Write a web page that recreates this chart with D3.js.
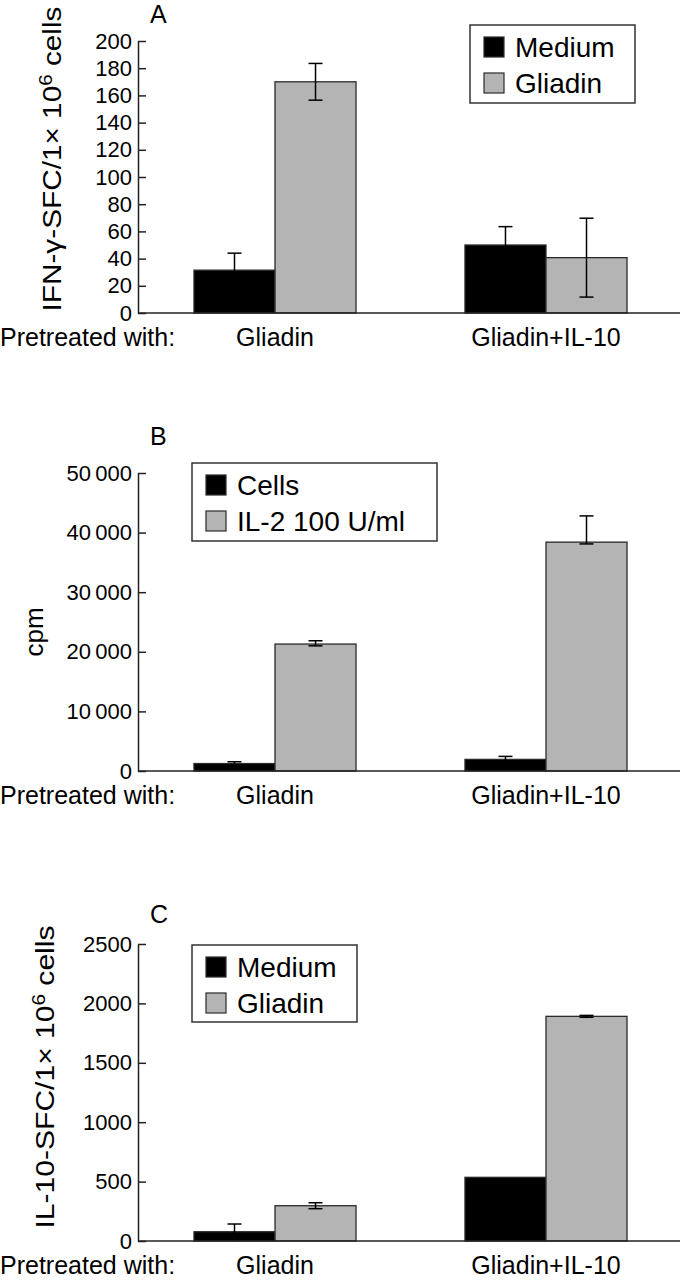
<!DOCTYPE html>
<html>
<head>
<meta charset="utf-8">
<script src="https://cdn.jsdelivr.net/npm/d3@7"></script>
<style>
  html, body { margin: 0; padding: 0; background: #fff; }
  svg { display: block; }
  text { font-family: "Liberation Sans", Arial, sans-serif; fill: #000; }
</style>
</head>
<body>
<svg id="chart" width="680" height="1280"></svg>
<script>
// ---------- DATA ----------
const categories = ["Gliadin", "Gliadin+IL-10"];
const rowLabel = "Pretreated with:";

// Panel A
const seriesA = ["Medium", "Gliadin"];
const aMedium = [31.5, 50];
const aMediumErrUp = [12.5, 13.5];
const aMediumErrDown = [12.5, 13.5];
const aGliadin = [170, 40.7];
const aGliadinErrUp = [13.5, 29];
const aGliadinErrDown = [13.5, 29];
const aTicks = [0, 20, 40, 60, 80, 100, 120, 140, 160, 180, 200];
const aTickLabels = ["0", "20", "40", "60", "80", "100", "120", "140", "160", "180", "200"];

// Panel B
const seriesB = ["Cells", "IL-2 100 U/ml"];
const bCells = [1250, 1950];
const bCellsErrUp = [300, 500];
const bCellsErrDown = [300, 500];
const bIL2 = [21300, 38400];
const bIL2ErrUp = [550, 4400];
const bIL2ErrDown = [300, 300];
const bTicks = [0, 10000, 20000, 30000, 40000, 50000];
const bTickLabels = ["0", "10\u2009000", "20\u2009000", "30\u2009000", "40\u2009000", "50\u2009000"];

// Panel C
const seriesC = ["Medium", "Gliadin"];
const cMedium = [78, 536];
const cMediumErrUp = [65, 0];
const cMediumErrDown = [65, 0];
const cGliadin = [297, 1891];
const cGliadinErrUp = [25, 8];
const cGliadinErrDown = [25, 8];
const cTicks = [0, 500, 1000, 1500, 2000, 2500];
const cTickLabels = ["0", "500", "1000", "1500", "2000", "2500"];

// ---------- DRAW ----------
const svg = d3.select("#chart");
const colors = ["#000000", "#b4b4b4"];
const axisX = 138;

const x0 = d3.scaleBand().domain(categories).range([138, 683])
  .paddingInner(0.402).paddingOuter(0.2066).align(0.5);

function drawPanel(cfg) {
  const g = svg.append("g");
  const y = d3.scaleLinear().domain(cfg.domain).range(cfg.range);
  const x1 = d3.scaleBand().domain([0, 1]).range([0, x0.bandwidth()]).padding(0);

  const rows = [];
  cfg.series.forEach((s, si) => {
    categories.forEach((c, ci) => {
      rows.push({ c, si, v: cfg.values[si][ci], up: cfg.errUp[si][ci], down: cfg.errDown[si][ci] });
    });
  });

  // bars
  g.selectAll("rect.bar").data(rows).join("rect")
    .attr("class", "bar")
    .attr("x", d => x0(d.c) + x1(d.si))
    .attr("width", x1.bandwidth())
    .attr("y", d => y(d.v))
    .attr("height", d => y(0) - y(d.v))
    .attr("fill", d => colors[d.si])
    .attr("stroke", "#2a2a2a")
    .attr("stroke-width", 1.3);

  // error bars
  const cap = 7;
  const cx = d => x0(d.c) + x1(d.si) + x1.bandwidth() / 2;
  const eb = g.selectAll("g.err").data(rows.filter(d => d.up > 0 || d.down > 0)).join("g").attr("class", "err");
  eb.append("line")
    .attr("x1", cx).attr("x2", cx)
    .attr("y1", d => y(d.v + d.up))
    .attr("y2", d => y(d.v - d.down))
    .attr("stroke", "#000").attr("stroke-width", 1.5);
  eb.append("line")
    .attr("x1", d => cx(d) - cap).attr("x2", d => cx(d) + cap)
    .attr("y1", d => y(d.v + d.up)).attr("y2", d => y(d.v + d.up))
    .attr("stroke", "#000").attr("stroke-width", 1.5);
  eb.append("line")
    .attr("x1", d => cx(d) - cap).attr("x2", d => cx(d) + cap)
    .attr("y1", d => y(d.v - d.down)).attr("y2", d => y(d.v - d.down))
    .attr("stroke", "#000").attr("stroke-width", 1.5);

  // y axis
  const axis = d3.axisLeft(y).tickValues(cfg.ticks)
    .tickFormat((d, i) => cfg.tickLabels[i])
    .tickSize(-8).tickSizeOuter(0).tickPadding(6);
  const ag = g.append("g").attr("transform", `translate(${axisX},0)`).call(axis);
  ag.select(".domain").attr("stroke", "#222").attr("stroke-width", 1.5);
  ag.selectAll(".tick line").attr("stroke", "#222").attr("stroke-width", 1.5);
  ag.selectAll(".tick text").attr("font-size", 22).attr("font-family", "Liberation Sans, Arial, sans-serif").attr("fill", "#000");

  // baseline
  g.append("line").attr("x1", axisX).attr("x2", 680)
    .attr("y1", y(0)).attr("y2", y(0))
    .attr("stroke", "#222").attr("stroke-width", 1.5);

  // category labels
  const by = y(0) + 33;
  g.append("text").attr("x", 0).attr("y", by).attr("font-size", 25).text(rowLabel);
  g.selectAll("text.cat").data(categories).join("text").attr("class", "cat")
    .attr("x", d => x0(d) + x0.bandwidth() / 2).attr("y", by)
    .attr("text-anchor", "middle").attr("font-size", 25).text(d => d);

  // panel letter
  g.append("text").attr("x", cfg.letterX).attr("y", cfg.letterY).attr("font-size", 25).text(cfg.letter);

  // y label
  const yl = g.append("text")
    .attr("transform", `translate(${cfg.ylabX},${cfg.ylabY}) rotate(-90)`)
    .attr("text-anchor", "middle").attr("font-size", 26);
  if (cfg.ylabLen) yl.attr("textLength", cfg.ylabLen).attr("lengthAdjust", "spacingAndGlyphs");
  cfg.ylabParts.forEach(p => {
    const t = yl.append("tspan").text(p.t);
    if (p.sup) t.attr("dy", -9).attr("font-size", 18);
    if (p.after) t.attr("dy", 9);
  });

  // legend
  const L = cfg.legend;
  g.append("rect").attr("x", L.x).attr("y", L.y).attr("width", L.w).attr("height", L.h)
    .attr("fill", "#fff").attr("stroke", "#333").attr("stroke-width", 1.5);
  cfg.series.forEach((s, i) => {
    const sy = L.y + 12 + i * 36;
    g.append("rect").attr("x", L.x + 14).attr("y", sy).attr("width", 20).attr("height", 20)
      .attr("fill", colors[i]).attr("stroke", "#2a2a2a").attr("stroke-width", 1.2);
    g.append("text").attr("x", L.x + 45).attr("y", sy + 20).attr("font-size", 28).text(s);
  });
}

drawPanel({
  series: seriesA, values: [aMedium, aGliadin],
  errUp: [aMediumErrUp, aGliadinErrUp], errDown: [aMediumErrDown, aGliadinErrDown],
  domain: [0, 200], range: [313, 41], ticks: aTicks, tickLabels: aTickLabels,
  letter: "A", letterX: 150, letterY: 23,
  ylabX: 61, ylabY: 159, ylabLen: 305,
  ylabParts: [{ t: "IFN-γ-SFC/1× 10" }, { t: "6", sup: true }, { t: " cells", after: true }],
  legend: { x: 470, y: 25, w: 165, h: 78 }
});

drawPanel({
  series: seriesB, values: [bCells, bIL2],
  errUp: [bCellsErrUp, bIL2ErrUp], errDown: [bCellsErrDown, bIL2ErrDown],
  domain: [0, 50000], range: [771, 473], ticks: bTicks, tickLabels: bTickLabels,
  letter: "B", letterX: 150, letterY: 445,
  ylabX: 43, ylabY: 632, ylabLen: null,
  ylabParts: [{ t: "cpm" }],
  legend: { x: 192, y: 463, w: 245, h: 78 }
});

drawPanel({
  series: seriesC, values: [cMedium, cGliadin],
  errUp: [cMediumErrUp, cGliadinErrUp], errDown: [cMediumErrDown, cGliadinErrDown],
  domain: [0, 2500], range: [1241, 944], ticks: cTicks, tickLabels: cTickLabels,
  letter: "C", letterX: 150, letterY: 923,
  ylabX: 54, ylabY: 1077, ylabLen: 303,
  ylabParts: [{ t: "IL-10-SFC/1× 10" }, { t: "6", sup: true }, { t: " cells", after: true }],
  legend: { x: 192, y: 945, w: 165, h: 77 }
});
</script>
</body>
</html>
